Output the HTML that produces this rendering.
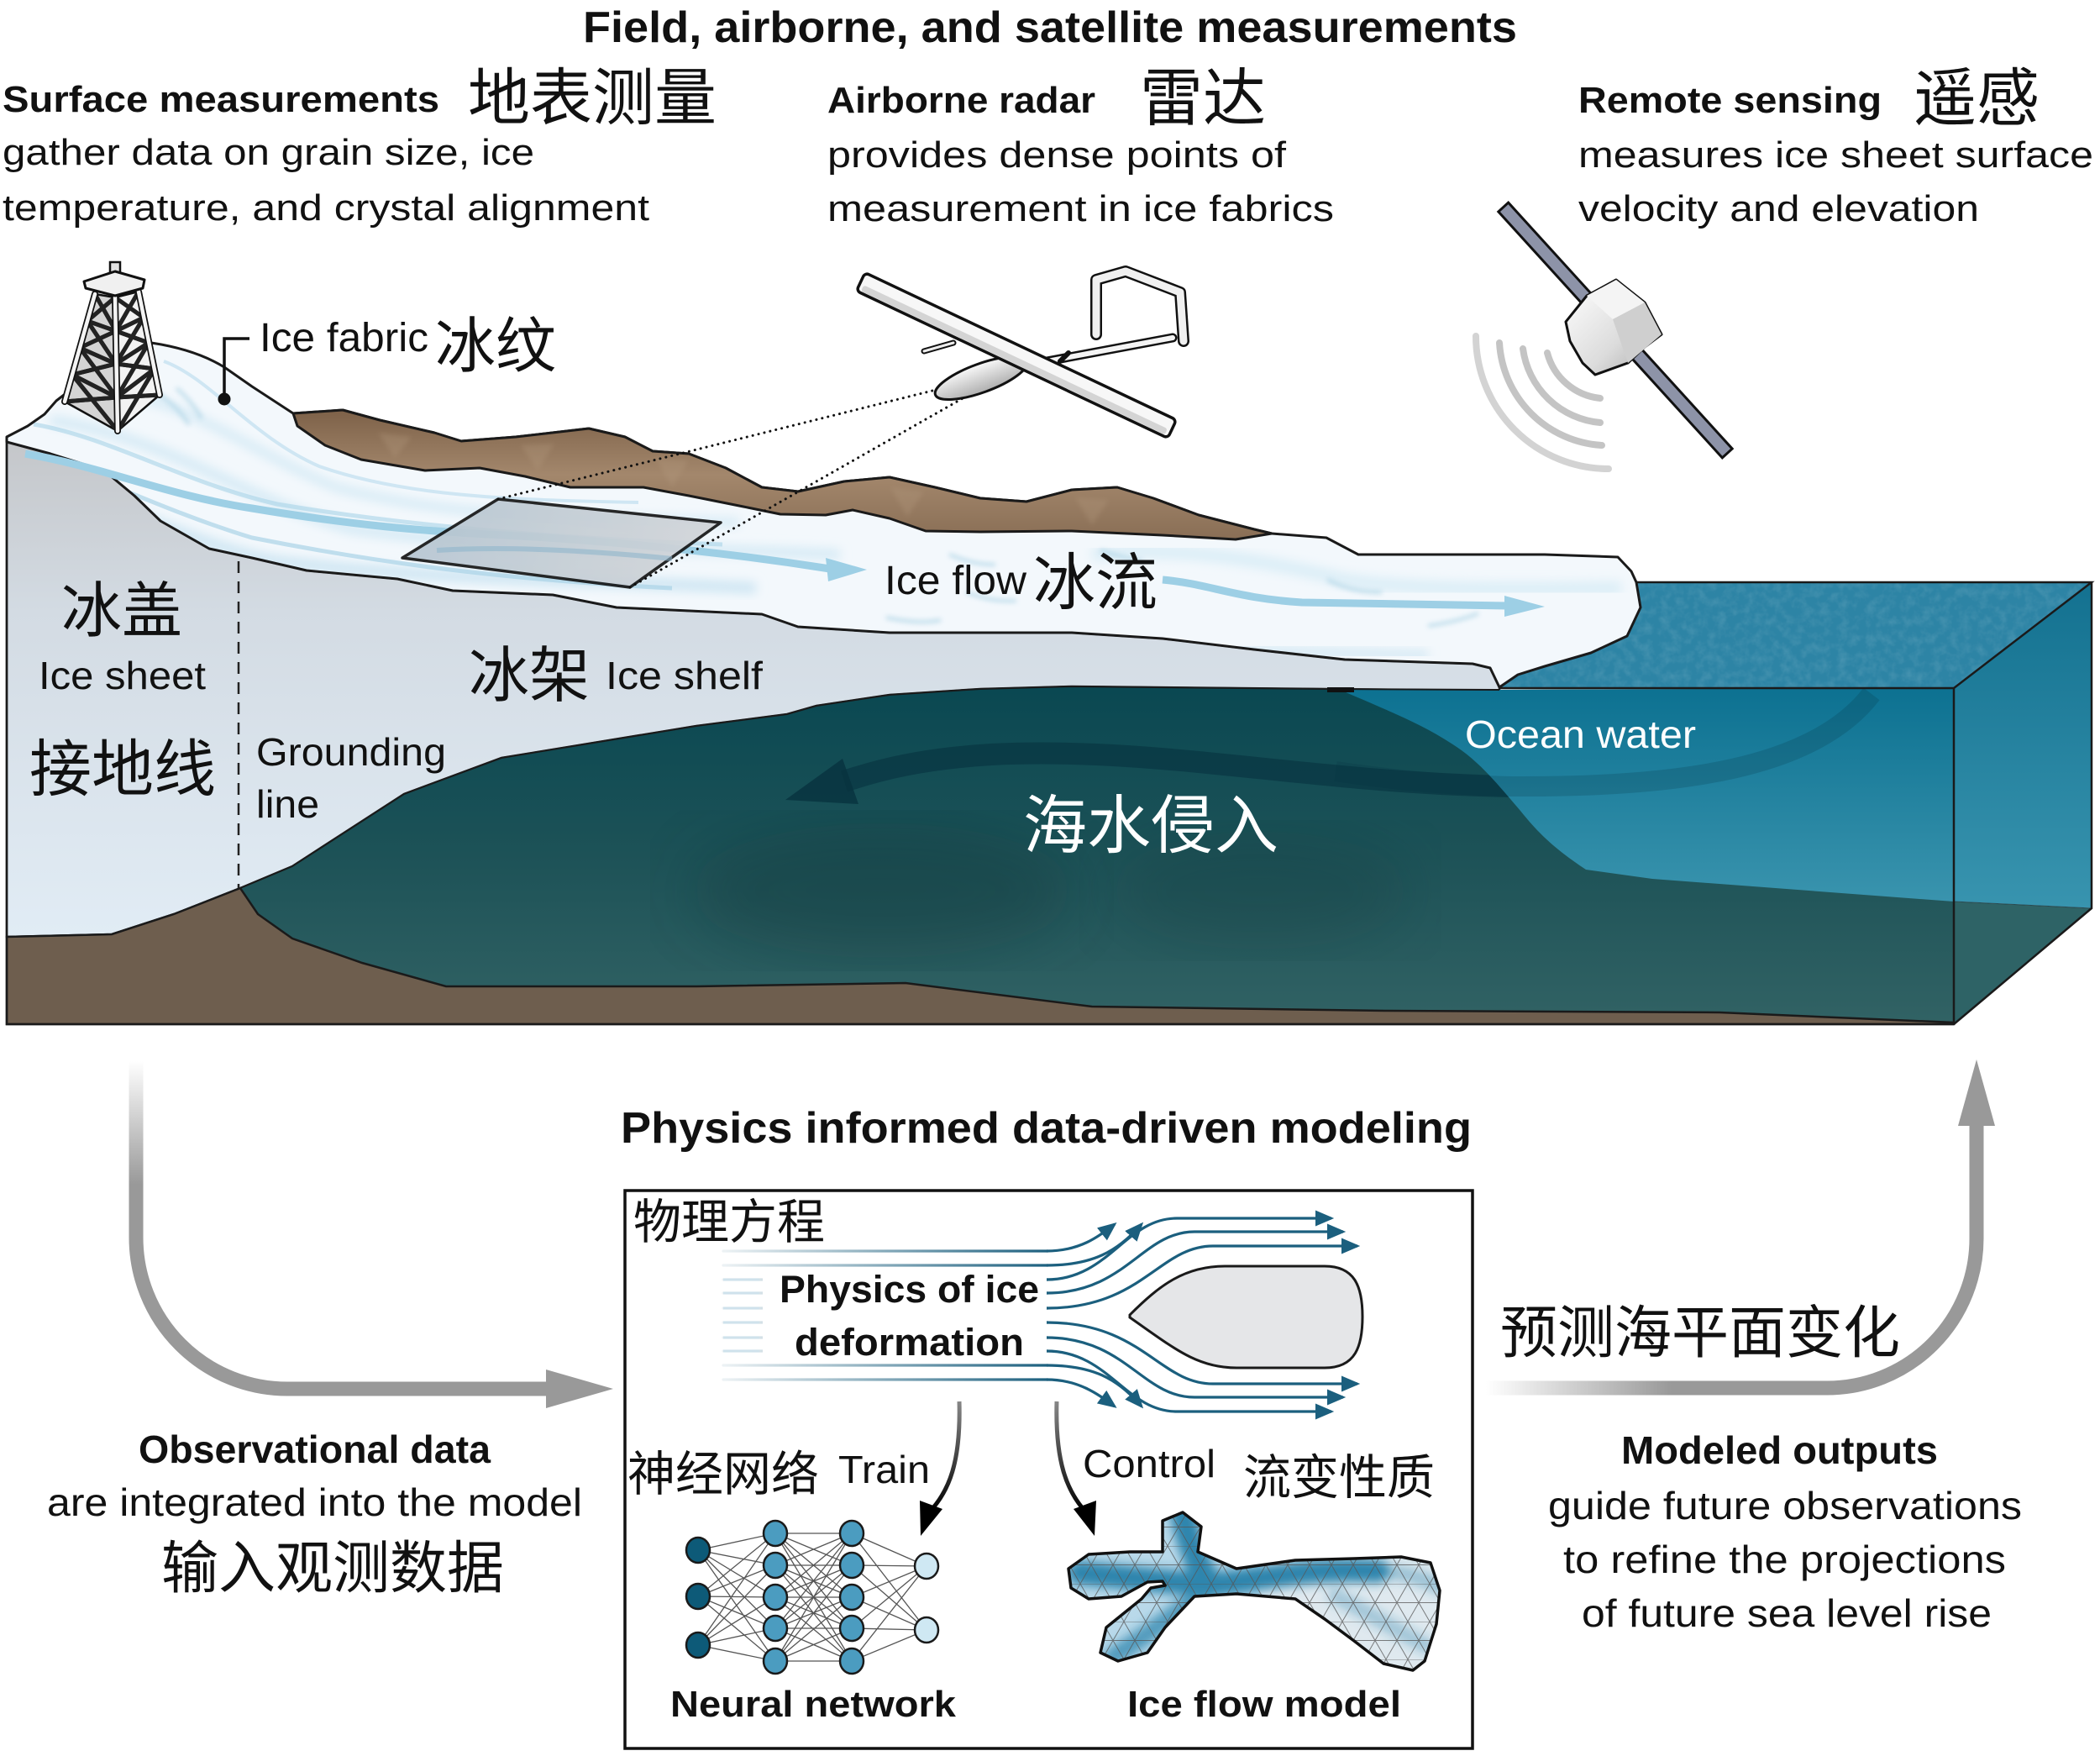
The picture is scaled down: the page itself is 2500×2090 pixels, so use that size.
<!DOCTYPE html>
<html><head><meta charset="utf-8"><style>
html,body{margin:0;padding:0;background:#fff;}
svg{display:block;}
text{font-family:"Liberation Sans","Noto Sans CJK SC",sans-serif;fill:#111;}
.cjk{font-family:"Noto Sans CJK SC","WenQuanYi Zen Hei",sans-serif;}
.b{font-weight:bold;}
</style></head><body>
<svg width="2500" height="2090" viewBox="0 0 2500 2090" xmlns="http://www.w3.org/2000/svg">
<defs>
<linearGradient id="iceFront" x1="0" y1="520" x2="0" y2="1115" gradientUnits="userSpaceOnUse">
<stop offset="0" stop-color="#c4c6c9"/><stop offset="0.35" stop-color="#d3dbe3"/><stop offset="1" stop-color="#e1ecf5"/></linearGradient>
<linearGradient id="cav" x1="0" y1="820" x2="0" y2="1215" gradientUnits="userSpaceOnUse">
<stop offset="0" stop-color="#0a4852"/><stop offset="0.5" stop-color="#1d5257"/><stop offset="1" stop-color="#316264"/></linearGradient>
<linearGradient id="bright" x1="0" y1="818" x2="0" y2="1075" gradientUnits="userSpaceOnUse">
<stop offset="0" stop-color="#0c7191"/><stop offset="1" stop-color="#3a94ae"/></linearGradient>
<linearGradient id="rface" x1="0" y1="693" x2="0" y2="1081" gradientUnits="userSpaceOnUse">
<stop offset="0" stop-color="#137190"/><stop offset="1" stop-color="#3894af"/></linearGradient>
<linearGradient id="mount" x1="0" y1="490" x2="0" y2="640" gradientUnits="userSpaceOnUse">
<stop offset="0" stop-color="#7e6249"/><stop offset="0.5" stop-color="#a3876c"/><stop offset="1" stop-color="#8a6f56"/></linearGradient>
<linearGradient id="swath" x1="480" y1="600" x2="860" y2="700" gradientUnits="userSpaceOnUse">
<stop offset="0" stop-color="#b4c4d0"/><stop offset="1" stop-color="#d3d5d8"/></linearGradient>
<linearGradient id="pod" x1="0" y1="430" x2="0" y2="470" gradientUnits="userSpaceOnUse">
<stop offset="0" stop-color="#ffffff"/><stop offset="1" stop-color="#a8a8a8"/></linearGradient>
<linearGradient id="body" x1="1865" y1="335" x2="1975" y2="445" gradientUnits="userSpaceOnUse">
<stop offset="0" stop-color="#ffffff"/><stop offset="0.6" stop-color="#dcdcdc"/><stop offset="1" stop-color="#a9a9a9"/></linearGradient>
<linearGradient id="lArrow" x1="0" y1="1263" x2="0" y2="1410" gradientUnits="userSpaceOnUse">
<stop offset="0" stop-color="#ffffff"/><stop offset="1" stop-color="#999999"/></linearGradient>
<linearGradient id="rArrow" x1="1769" y1="0" x2="1990" y2="0" gradientUnits="userSpaceOnUse">
<stop offset="0" stop-color="#ffffff"/><stop offset="1" stop-color="#999999"/></linearGradient>
<linearGradient id="stream" x1="861" y1="0" x2="1250" y2="0" gradientUnits="userSpaceOnUse">
<stop offset="0" stop-color="#1b5f7e" stop-opacity="0.08"/><stop offset="1" stop-color="#1b5f7e"/></linearGradient>
<linearGradient id="ctl" x1="0" y1="1665" x2="0" y2="1800" gradientUnits="userSpaceOnUse">
<stop offset="0" stop-color="#8a8a8a"/><stop offset="1" stop-color="#000"/></linearGradient>
<marker id="ah" markerWidth="8" markerHeight="8" refX="6" refY="4" orient="auto" markerUnits="strokeWidth">
<path d="M0,1 L7,4 L0,7 Z" fill="#1b5f7e"/></marker>
<filter id="blur6"><feGaussianBlur stdDeviation="6"/></filter>
<filter id="blur3"><feGaussianBlur stdDeviation="3"/></filter>
<filter id="blur20"><feGaussianBlur stdDeviation="35"/></filter>
<filter id="noise" x="0" y="0" width="100%" height="100%">
<feTurbulence type="fractalNoise" baseFrequency="0.09" numOctaves="3" seed="4"/>
<feColorMatrix type="matrix" values="0 0 0 0 1  0 0 0 0 1  0 0 0 0 1  0 0 0 1.2 -0.45"/></filter>
<pattern id="mesh" patternUnits="userSpaceOnUse" width="26" height="45" x="1260" y="1795">
<path d="M0,0 H26 M0,22.5 H26 M0,0 L26,45 M26,0 L0,45" stroke="#555" stroke-width="1" fill="none"/></pattern>
<clipPath id="oceanTopClip"><polygon points="1930,693 2490,693 2326,818 1785,818"/></clipPath>
<clipPath id="cavClip"><path d="M286,1057 L348,1031 L481,945 L597,902 L829,864 L937,850 L972,840 L1059,827 L1167,820 L1276,817 L1579,820 L1785,821 L2326,819 L2326,1217 L2047,1205 L1649,1203 L1300,1198 L1078,1170 L829,1174 L531,1174 L431,1146 L348,1117 L307,1088 Z"/></clipPath>
<clipPath id="glacClip"><path id="glacPath" d="M8,520 L33,507 L53,493 L67,477 L80,467 L120,440 L180,408 Q233,416 267,437 L300,460 L349,492 L408,488 L452,500 L517,515 L549,525 L614,520 L701,510 L744,520 L777,537 L820,540 L864,557 L907,580 L950,585 L1005,573 L1059,568 L1113,580 L1167,593 L1222,597 L1276,583 L1330,580 L1373,593 L1427,613 L1493,630 L1514,635 L1579,640 L1617,660 L1709,660 L1839,660 L1926,663 L1942,680 L1948,693 L1953,723 L1937,757 L1894,777 L1839,793 L1807,803 L1785,818 L1774,795 L1753,790 L1601,785 L1493,773 L1384,760 L1276,753 L1059,753 L950,746 L907,731 L734,723 L658,708 L539,703 L473,689 L365,679 L300,664 L249,653 L191,620 L160,590 L124,560 L60,540 L8,526 Z"/></clipPath>
<clipPath id="iceModel"><path d="M1384,1810 L1408,1800 L1430,1817 L1426,1847 L1472,1867 L1542,1857 L1612,1855 L1668,1853 L1703,1860 L1714,1893 L1710,1933 L1696,1977 L1682,1988 L1647,1980 L1612,1953 L1577,1927 L1542,1903 L1472,1897 L1422,1900 L1387,1937 L1366,1967 L1331,1977 L1310,1967 L1317,1937 L1359,1903 L1370,1890 L1387,1887 L1384,1882 L1366,1883 L1335,1900 L1296,1903 L1275,1890 L1272,1867 L1296,1850 L1345,1847 L1384,1847 Z"/></clipPath>
</defs>

<!-- ===== OCEAN BOX ===== -->
<polygon points="1930,693 2490,693 2326,818 1785,818" fill="#2d84a5"/>
<rect x="1780" y="690" width="715" height="132" filter="url(#noise)" clip-path="url(#oceanTopClip)" opacity="0.18"/>
<polygon points="2326,818 2490,693 2490,1081 2326,1073" fill="url(#rface)"/>
<polygon points="2326,1073 2490,1081 2326,1218" fill="#2e6366"/>

<!-- ice front face -->
<path d="M8,526 L60,540 L124,560 L160,590 L191,620 L249,653 L300,664 L365,679 L473,689 L539,703 L658,708 L734,723 L907,731 L950,746 L1059,753 L1276,753 L1384,760 L1493,773 L1601,785 L1753,790 L1774,795 L1785,818 L1785,822 L1579,820 L1276,817 L1167,820 L1059,827 L972,840 L937,850 L829,864 L597,902 L481,945 L348,1031 L286,1057 L207,1088 L133,1112 L8,1115 Z" fill="url(#iceFront)" stroke="#1a1a1a" stroke-width="2.5"/>

<!-- cavity -->
<path d="M286,1057 L348,1031 L481,945 L597,902 L829,864 L937,850 L972,840 L1059,827 L1167,820 L1276,817 L1579,820 L1785,821 L2326,819 L2326,1217 L2047,1205 L1649,1203 L1300,1198 L1078,1170 L829,1174 L531,1174 L431,1146 L348,1117 L307,1088 Z" fill="url(#cav)"/>
<g clip-path="url(#cavClip)">
<ellipse cx="1050" cy="1060" rx="230" ry="80" fill="#0f3236" opacity="0.3" filter="url(#blur20)"/>
<ellipse cx="1500" cy="1060" rx="180" ry="70" fill="#0f3236" opacity="0.2" filter="url(#blur20)"/>
<path d="M2228,826 C2160,915 2000,937 1800,936 C1560,932 1380,888 1180,898 C1100,903 1050,915 1005,930" fill="none" stroke="#07323f" stroke-width="26" opacity="0.6"/>
<polygon points="935,952 1003,903 1022,957" fill="#07323f" opacity="0.8"/>
<path d="M1593,820 L2326,819 L2326,1073 L1967,1046 L1888,1035 C1850,1010 1830,990 1810,965 C1780,930 1760,905 1728,885 C1690,860 1650,845 1593,820 Z" fill="url(#bright)"/>
<path d="M2228,826 C2160,915 2000,937 1800,936 C1700,934 1640,925 1590,918" fill="none" stroke="#07323f" stroke-width="24" opacity="0.2"/>
</g>
<path d="M286,1057 L348,1031 L481,945 L597,902 L829,864 L937,850 L972,840 L1059,827 L1167,820 L1276,817 L1579,820 L1785,821" fill="none" stroke="#1a1a1a" stroke-width="2"/>
<rect x="1580" y="818" width="32" height="6" fill="#111"/>

<!-- bedrock -->
<path d="M8,1115 L133,1112 L207,1088 L286,1057 L307,1088 L348,1117 L431,1146 L531,1174 L829,1174 L1078,1170 L1300,1198 L1649,1203 L2047,1205 L2326,1217 L2326,1219 L8,1219 Z" fill="#6e5e4e" stroke="#1a1a1a" stroke-width="2.5"/>

<!-- box edges -->
<g fill="none" stroke="#1a1a1a" stroke-width="2.5">
<path d="M1785,819 L2326,819 L2490,693 L1944,693"/>
<path d="M2326,819 L2326,1219"/>
<path d="M2490,693 L2490,1081 L2326,1219"/>
<path d="M2326,1073 L2490,1081" stroke-width="1" opacity="0.5"/>
<path d="M8,520 L8,1219 L2326,1219"/>
</g>

<!-- grounding dashed line -->
<line x1="284" y1="668" x2="284" y2="1057" stroke="#222" stroke-width="2.5" stroke-dasharray="14 10"/>

<!-- ===== GLACIER SURFACE ===== -->
<use href="#glacPath" fill="#f3f8fc"/>
<g clip-path="url(#glacClip)">
<path d="M20,560 C150,600 230,650 330,668 C500,690 700,690 900,700" fill="none" stroke="#cfe6f3" stroke-width="14" filter="url(#blur6)"/>
<path d="M60,500 C200,520 300,600 420,630 C600,655 800,650 1000,660" fill="none" stroke="#d5eaf5" stroke-width="12" filter="url(#blur6)"/>
<path d="M100,460 C220,470 300,540 400,580 C550,620 700,615 880,622" fill="none" stroke="#d5eaf5" stroke-width="10" filter="url(#blur6)"/>
<path d="M10,530 C100,560 200,610 300,640 C450,670 600,690 800,700" fill="none" stroke="#a9d3e7" stroke-width="5" opacity="0.7"/>
<path d="M40,505 C130,520 220,575 330,600 C480,625 650,640 860,648" fill="none" stroke="#a9d3e7" stroke-width="5" opacity="0.6"/>
<path d="M195,430 C250,450 300,520 380,555 C480,590 600,595 760,598" fill="none" stroke="#b8dbec" stroke-width="4" opacity="0.6"/>
<path d="M1300,660 C1400,650 1500,665 1600,690 C1700,705 1850,700 1930,700" fill="none" stroke="#dceef7" stroke-width="16" filter="url(#blur6)"/>
<path d="M1200,770 C1350,770 1500,775 1700,780" fill="none" stroke="#d9ebf5" stroke-width="14" filter="url(#blur6)"/>
<g stroke="#9ccbe0" stroke-width="4" fill="none" opacity="0.6" filter="url(#blur3)">
<path d="M190,470 C205,480 215,490 225,505"/><path d="M210,462 C222,472 232,484 240,498"/>
<path d="M80,580 C100,590 120,600 140,610"/><path d="M90,600 C110,610 125,618 150,622"/>
<path d="M1130,660 C1150,668 1165,672 1185,672"/><path d="M1055,735 C1080,740 1100,742 1120,738"/>
<path d="M1150,705 C1170,712 1185,716 1210,715"/><path d="M1310,655 C1325,660 1340,665 1360,668"/>
<path d="M1700,745 C1720,742 1740,738 1760,730"/><path d="M1580,690 C1600,700 1620,705 1645,705"/>
</g>
</g>
<use href="#glacPath" fill="none" stroke="#1a1a1a" stroke-width="3" stroke-linejoin="round"/>

<!-- brown mountain -->
<path d="M349,492 L408,488 L452,500 L517,515 L549,525 L614,520 L701,510 L744,520 L777,537 L820,540 L864,557 L907,580 L950,585 L1005,573 L1059,568 L1113,580 L1167,593 L1222,597 L1276,583 L1330,580 L1373,593 L1427,613 L1493,630 L1514,635 L1471,642 L1384,637 L1276,632 L1167,633 L1102,632 L1059,617 L1015,607 L983,613 L929,612 L885,603 L820,590 L766,580 L679,580 L625,567 L571,557 L506,560 L430,547 L387,530 L354,507 Z" fill="url(#mount)" stroke="#1a1a1a" stroke-width="3" stroke-linejoin="round"/>
<g fill="#b59b80" opacity="0.3" filter="url(#blur3)">
<path d="M450,515 L470,545 L490,520 Z"/><path d="M620,530 L640,560 L660,528 Z"/><path d="M780,545 L800,580 L820,548 Z"/>
<path d="M1060,580 L1080,615 L1100,585 Z"/><path d="M1280,592 L1300,625 L1320,595 Z"/>
</g>

<!-- ice flow arrows -->
<path d="M30,540 C120,555 200,590 300,605 C420,625 500,632 600,637 C750,645 880,660 988,677" fill="none" stroke="#9dcfe5" stroke-width="9"/>
<polygon points="1032,678 983,664 986,692" fill="#9dcfe5"/>
<path d="M1384,690 C1440,695 1470,712 1550,717 L1795,721" fill="none" stroke="#9dcfe5" stroke-width="9"/>
<polygon points="1839,722 1791,709 1791,734" fill="#9dcfe5"/>

<!-- radar swath -->
<polygon points="479,664 593,594 858,622 750,699" fill="url(#swath)" opacity="0.9" stroke="#111" stroke-width="3.5" stroke-linejoin="round"/>
<path d="M520,655 C600,650 700,655 800,665" stroke="#8fb6cc" stroke-width="6" fill="none" opacity="0.6"/>
<g stroke="#111" stroke-width="3" stroke-dasharray="0.1 7" stroke-linecap="round" fill="none">
<line x1="593" y1="594" x2="1118" y2="463"/>
<line x1="750" y1="699" x2="1148" y2="473"/>
</g>

<!-- drilling tower -->
<g stroke="#111" stroke-width="2.5" stroke-linejoin="round">
<polygon points="113,350 137,354 140,513 77,478" fill="#d4d4d4"/>
<polygon points="137,354 165,347 190,470 140,513" fill="#f2f2f2"/>
</g>
<g fill="none" stroke-linecap="round">
<path id="latt" d="M113,350 L138,394 M137,354 L104,382 M104,382 L138,433 M138,394 L95,414 M95,414 L139,473 M138,433 L86,446 M86,446 L140,513 M139,473 L77,478 M104,382 L138,394 M95,414 L138,433 M86,446 L139,473 M137,354 L171,378 M165,347 L138,394 M138,394 L177,408 M171,378 L138,433 M138,433 L184,439 M177,408 L139,473 M139,473 L190,470 M184,439 L140,513 M138,394 L171,378 M138,433 L177,408 M139,473 L184,439" stroke="#222" stroke-width="5"/>
<use href="#latt" stroke="#fafafa" stroke-width="3.2"/>
<path d="M113,350 L77,478 M137,354 L140,513 M165,347 L190,470" stroke="#111" stroke-width="8"/>
<path d="M113,350 L77,478 M137,354 L140,513 M165,347 L190,470" stroke="#f4f4f4" stroke-width="4.5"/>
</g>
<rect x="131" y="312" width="12" height="22" fill="#e2e2e2" stroke="#111" stroke-width="2.5"/>
<polygon points="100,335 137,323 172,333 170,343 137,352 102,343" fill="#f0f0f0" stroke="#111" stroke-width="3" stroke-linejoin="round"/>

<!-- Ice fabric leader -->
<path d="M297,403 L267,403 L267,475" fill="none" stroke="#111" stroke-width="3.5"/>
<circle cx="267" cy="475" r="7.5" fill="#111"/>

<!-- airplane -->
<g stroke="#111" stroke-linejoin="round" stroke-linecap="round" fill="none">
<path d="M1225,434 L1396,402" stroke-width="11"/>
<path d="M1225,434 L1396,402" stroke="#f4f4f4" stroke-width="6"/>
<path d="M1305,398 L1305,333 L1340,323 L1405,348 L1409,406" stroke-width="14"/>
<path d="M1305,398 L1305,333 L1340,323 L1405,348 L1409,406" stroke="#f0f0f0" stroke-width="9"/>
<path d="M1100,418 L1135,408" stroke-width="7"/><path d="M1100,418 L1135,408" stroke="#eee" stroke-width="3"/>
<path d="M1262,430 L1272,420" stroke-width="6"/>
</g>
<ellipse cx="1168" cy="450" rx="58" ry="17" transform="rotate(-20 1168 450)" fill="url(#pod)" stroke="#111" stroke-width="3"/>
<rect x="1005" y="411" width="410" height="24" rx="5" transform="rotate(25.3 1210 423)" fill="#f7f7f7" stroke="#111" stroke-width="3.5"/>
<rect x="1010" y="425" width="400" height="8" rx="3" transform="rotate(25.3 1210 423)" fill="#bdbdbd" opacity="0.6"/>

<!-- satellite -->
<g fill="none" stroke="#c4c4c4" stroke-width="8" stroke-linecap="round">
<path d="M1757,400 A158,158 0 0 0 1915,558" opacity="0.75"/>
<path d="M1785,408 A130,130 0 0 0 1907,530"/>
<path d="M1813,415 A102,102 0 0 0 1905,503"/>
<path d="M1842,420 A73,73 0 0 0 1905,474"/>
</g>
<rect x="1725" y="385" width="396" height="16" transform="rotate(47.7 1923 393)" fill="#8d93a8" stroke="#111" stroke-width="3"/>
<polygon points="1924,333 1958,360 1978,398 1958,413 1938,432 1899,446 1884,432 1869,406 1864,383 1889,352" fill="url(#body)" stroke="#111" stroke-width="3" stroke-linejoin="round"/>
<polygon points="1889,352 1924,333 1958,360 1920,380" fill="#f4f4f4"/>
<polygon points="1920,380 1958,360 1978,398 1938,432" fill="#cfcfcf"/>

<!-- ===== TOP TEXT ===== -->
<text x="694" y="50" class="b" font-size="52" textLength="1112" lengthAdjust="spacingAndGlyphs">Field, airborne, and satellite measurements</text>
<text x="3" y="133" class="b" font-size="44" textLength="520" lengthAdjust="spacingAndGlyphs">Surface measurements</text>
<text x="557" y="142" class="cjk" font-size="74">地表测量</text>
<text x="3" y="196" font-size="44" textLength="633" lengthAdjust="spacingAndGlyphs">gather data on grain size, ice</text>
<text x="3" y="262" font-size="44" textLength="770" lengthAdjust="spacingAndGlyphs">temperature, and crystal alignment</text>
<text x="985" y="134" class="b" font-size="44" textLength="319" lengthAdjust="spacingAndGlyphs">Airborne radar</text>
<text x="1357" y="143" class="cjk" font-size="75">雷达</text>
<text x="985" y="199" font-size="44" textLength="546" lengthAdjust="spacingAndGlyphs">provides dense points of</text>
<text x="985" y="263" font-size="44" textLength="603" lengthAdjust="spacingAndGlyphs">measurement in ice fabrics</text>
<text x="1879" y="134" class="b" font-size="44" textLength="361" lengthAdjust="spacingAndGlyphs">Remote sensing</text>
<text x="2278" y="143" class="cjk" font-size="75">遥感</text>
<text x="1879" y="199" font-size="44" textLength="613" lengthAdjust="spacingAndGlyphs">measures ice sheet surface</text>
<text x="1879" y="263" font-size="44" textLength="477" lengthAdjust="spacingAndGlyphs">velocity and elevation</text>

<text x="309" y="418" font-size="48" textLength="201" lengthAdjust="spacingAndGlyphs">Ice fabric</text>
<text x="518" y="437" class="cjk" font-size="72">冰纹</text>
<text x="1053" y="707" font-size="48" textLength="169" lengthAdjust="spacingAndGlyphs">Ice flow</text>
<text x="1230" y="719" class="cjk" font-size="74">冰流</text>
<text x="73" y="752" class="cjk" font-size="72">冰盖</text>
<text x="46" y="820" font-size="46" textLength="199" lengthAdjust="spacingAndGlyphs">Ice sheet</text>
<text x="35" y="941" class="cjk" font-size="74">接地线</text>
<text x="305" y="911" font-size="46" textLength="226" lengthAdjust="spacingAndGlyphs">Grounding</text>
<text x="305" y="973" font-size="46" textLength="75" lengthAdjust="spacingAndGlyphs">line</text>
<text x="558" y="829" class="cjk" font-size="72">冰架</text>
<text x="721" y="820" font-size="46" textLength="187" lengthAdjust="spacingAndGlyphs">Ice shelf</text>
<text x="1744" y="890" font-size="46" textLength="275" lengthAdjust="spacingAndGlyphs" style="fill:#fff">Ocean water</text>
<text x="1218" y="1009" class="cjk" font-size="76" style="fill:#fff">海水侵入</text>

<!-- ===== BOTTOM SECTION ===== -->
<text x="739" y="1360" class="b" font-size="52" textLength="1013" lengthAdjust="spacingAndGlyphs">Physics informed data-driven modeling</text>

<!-- gray arrows -->
<path d="M162,1263 L162,1473 A180,180 0 0 0 342,1653 L655,1653" fill="none" stroke="url(#lArrow)" stroke-width="17"/>
<path d="M342,1653 L655,1653" fill="none" stroke="#999" stroke-width="17"/>
<polygon points="650,1630 730,1653 650,1676" fill="#999"/>
<path d="M1769,1652 L2175,1652" fill="none" stroke="url(#rArrow)" stroke-width="17"/>
<path d="M2150,1652 L2175,1652 A178,178 0 0 0 2353,1474 L2353,1335" fill="none" stroke="#999" stroke-width="17"/>
<polygon points="2331,1340 2353,1261 2375,1340" fill="#999"/>

<text x="165" y="1741" class="b" font-size="46" textLength="419" lengthAdjust="spacingAndGlyphs">Observational data</text>
<text x="56" y="1804" font-size="46" textLength="637" lengthAdjust="spacingAndGlyphs">are integrated into the model</text>
<text x="192" y="1890" class="cjk" font-size="68">输入观测数据</text>
<text x="1786" y="1610" class="cjk" font-size="68">预测海平面变化</text>
<text x="1930" y="1742" class="b" font-size="46" textLength="377" lengthAdjust="spacingAndGlyphs">Modeled outputs</text>
<text x="1843" y="1808" font-size="46" textLength="564" lengthAdjust="spacingAndGlyphs">guide future observations</text>
<text x="1861" y="1872" font-size="46" textLength="527" lengthAdjust="spacingAndGlyphs">to refine the projections</text>
<text x="1883" y="1936" font-size="46" textLength="488" lengthAdjust="spacingAndGlyphs">of future sea level rise</text>

<!-- model box -->
<rect x="744" y="1417" width="1009" height="664" fill="#fff" stroke="#111" stroke-width="3.5"/>
<text x="754" y="1474" class="cjk" font-size="57">物理方程</text>

<!-- streamlines -->
<g fill="none" stroke-width="3.2" stroke-linecap="round">
<path d="M861,1489 H1247" stroke="url(#stream)"/>
<path d="M861,1506 H1247" stroke="url(#stream)"/>
<path d="M861,1523 H1247" stroke="url(#stream)"/>
<path d="M861,1539 H1247" stroke="url(#stream)"/>
<path d="M861,1557 H1247" stroke="url(#stream)"/>
<path d="M861,1574 H1247" stroke="url(#stream)"/>
<path d="M861,1592 H1247" stroke="url(#stream)"/>
<path d="M861,1608 H1247" stroke="url(#stream)"/>
<path d="M861,1625 H1247" stroke="url(#stream)"/>
<path d="M861,1642 H1247" stroke="url(#stream)"/>
</g>
<g fill="none" stroke="#1b5f7e" stroke-width="3.2" marker-end="url(#ah)">
<path d="M1246,1489 C1285,1489 1308,1472 1327,1457"/>
<path d="M1246,1506 C1300,1506 1330,1490 1359,1457"/>
<path d="M1246,1523 C1320,1523 1340,1450 1401,1450 H1585"/>
<path d="M1246,1539 C1340,1539 1360,1466 1422,1466 H1599"/>
<path d="M1246,1557 C1360,1557 1380,1483 1444,1483 H1616"/>
<path d="M1246,1574 C1360,1574 1380,1647 1444,1647 H1616"/>
<path d="M1246,1592 C1340,1592 1360,1663 1422,1663 H1599"/>
<path d="M1246,1608 C1320,1608 1340,1680 1401,1680 H1585"/>
<path d="M1246,1625 C1300,1625 1330,1640 1359,1674"/>
<path d="M1246,1642 C1285,1642 1308,1660 1327,1674"/>
</g>
<rect x="908" y="1514" width="338" height="104" fill="#fff"/>
<path d="M861,1523 H904 M861,1539 H904 M861,1557 H904 M861,1574 H904 M861,1592 H904 M861,1608 H904" stroke="#cfe2ec" stroke-width="3"/>
<text x="928" y="1550" class="b" font-size="45" textLength="309" lengthAdjust="spacingAndGlyphs">Physics of ice</text>
<text x="946" y="1613" class="b" font-size="45" textLength="273" lengthAdjust="spacingAndGlyphs">deformation</text>
<path d="M1345,1565 C1380,1530 1410,1507 1458,1507 L1577,1507 C1612,1507 1622,1530 1622,1567 C1622,1602 1614,1628 1577,1628 L1472,1628 C1425,1628 1398,1605 1345,1568 Z" fill="#e5e6e8" stroke="#1a1a1a" stroke-width="3"/>

<!-- train / control arrows -->
<path d="M1142,1668 C1144,1740 1130,1775 1106,1800" fill="none" stroke="url(#ctl)" stroke-width="5"/>
<polygon points="1096,1828 1095,1786 1122,1796" fill="#000"/>
<path d="M1258,1668 C1256,1740 1270,1775 1293,1800" fill="none" stroke="url(#ctl)" stroke-width="5"/>
<polygon points="1303,1828 1278,1796 1305,1786" fill="#000"/>
<text x="747" y="1774" class="cjk" font-size="57">神经网络</text>
<text x="998" y="1765" font-size="46" textLength="109" lengthAdjust="spacingAndGlyphs">Train</text>
<text x="1289" y="1758" font-size="46" textLength="158" lengthAdjust="spacingAndGlyphs">Control</text>
<text x="1480" y="1778" class="cjk" font-size="57">流变性质</text>

<!-- neural network -->
<path stroke="#555" stroke-width="1.3" fill="none" d="M831,1845L923,1825M831,1845L923,1863M831,1845L923,1901M831,1845L923,1938M831,1845L923,1977M831,1900L923,1825M831,1900L923,1863M831,1900L923,1901M831,1900L923,1938M831,1900L923,1977M831,1958L923,1825M831,1958L923,1863M831,1958L923,1901M831,1958L923,1938M831,1958L923,1977
M923,1825L1014,1825M923,1825L1014,1863M923,1825L1014,1901M923,1825L1014,1938M923,1825L1014,1977M923,1863L1014,1825M923,1863L1014,1863M923,1863L1014,1901M923,1863L1014,1938M923,1863L1014,1977M923,1901L1014,1825M923,1901L1014,1863M923,1901L1014,1901M923,1901L1014,1938M923,1901L1014,1977M923,1938L1014,1825M923,1938L1014,1863M923,1938L1014,1901M923,1938L1014,1938M923,1938L1014,1977M923,1977L1014,1825M923,1977L1014,1863M923,1977L1014,1901M923,1977L1014,1938M923,1977L1014,1977
M1014,1825L1103,1864M1014,1863L1103,1864M1014,1901L1103,1864M1014,1938L1103,1864M1014,1977L1103,1864M1014,1825L1103,1940M1014,1863L1103,1940M1014,1901L1103,1940M1014,1938L1103,1940M1014,1977L1103,1940"/>
<g stroke="#1a1a1a" stroke-width="2.5">
<g fill="#0d5a78"><ellipse cx="831" cy="1845" rx="14" ry="15"/><ellipse cx="831" cy="1900" rx="14" ry="15"/><ellipse cx="831" cy="1958" rx="14" ry="15"/></g>
<g fill="#4b9cc0"><ellipse cx="923" cy="1825" rx="14" ry="15"/><ellipse cx="923" cy="1863" rx="14" ry="15"/><ellipse cx="923" cy="1901" rx="14" ry="15"/><ellipse cx="923" cy="1938" rx="14" ry="15"/><ellipse cx="923" cy="1977" rx="14" ry="15"/>
<ellipse cx="1014" cy="1825" rx="14" ry="15"/><ellipse cx="1014" cy="1863" rx="14" ry="15"/><ellipse cx="1014" cy="1901" rx="14" ry="15"/><ellipse cx="1014" cy="1938" rx="14" ry="15"/><ellipse cx="1014" cy="1977" rx="14" ry="15"/></g>
<g fill="#cfe8f3"><ellipse cx="1103" cy="1864" rx="14" ry="15"/><ellipse cx="1103" cy="1940" rx="14" ry="15"/></g>
</g>

<!-- ice flow model -->
<g clip-path="url(#iceModel)">
<rect x="1260" y="1795" width="470" height="200" fill="#dfe9ef"/>
<rect x="1260" y="1795" width="240" height="200" fill="#b9d9ea"/>
<g fill="none" stroke="#2f85ad" stroke-linecap="round" filter="url(#blur6)">
<path d="M1408,1800 C1415,1840 1430,1870 1440,1885" stroke-width="30"/>
<path d="M1285,1872 C1350,1878 1400,1885 1450,1885 C1500,1880 1560,1865 1640,1870" stroke-width="28"/>
<path d="M1440,1890 C1400,1920 1360,1950 1325,1972" stroke-width="22" opacity="0.75"/>
<path d="M1590,1900 C1630,1920 1670,1945 1700,1960" stroke-width="18" opacity="0.35"/>
<path d="M1640,1870 C1670,1870 1700,1880 1715,1890" stroke-width="18" opacity="0.4"/>
</g>
<rect x="1260" y="1795" width="470" height="200" fill="url(#mesh)" opacity="0.75"/>
</g>
<path d="M1384,1810 L1408,1800 L1430,1817 L1426,1847 L1472,1867 L1542,1857 L1612,1855 L1668,1853 L1703,1860 L1714,1893 L1710,1933 L1696,1977 L1682,1988 L1647,1980 L1612,1953 L1577,1927 L1542,1903 L1472,1897 L1422,1900 L1387,1937 L1366,1967 L1331,1977 L1310,1967 L1317,1937 L1359,1903 L1370,1890 L1387,1887 L1384,1882 L1366,1883 L1335,1900 L1296,1903 L1275,1890 L1272,1867 L1296,1850 L1345,1847 L1384,1847 Z" fill="none" stroke="#111" stroke-width="3.5" stroke-linejoin="round"/>

<text x="798" y="2043" class="b" font-size="44" textLength="340" lengthAdjust="spacingAndGlyphs">Neural network</text>
<text x="1342" y="2043" class="b" font-size="44" textLength="326" lengthAdjust="spacingAndGlyphs">Ice flow model</text>
</svg>
</body></html>
